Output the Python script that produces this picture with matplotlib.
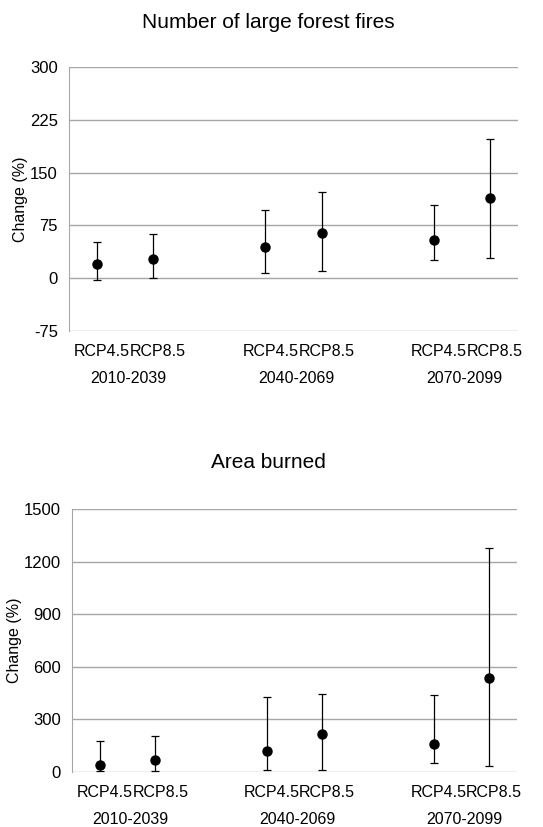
import numpy as np
import matplotlib
matplotlib.use('Agg')
import matplotlib.pyplot as plt

plt.rcParams['font.family'] = ['Liberation Sans', 'DejaVu Sans']
plt.rcParams['axes.unicode_minus'] = False

periods = ['2010-2039', '2040-2069', '2070-2099']
scenarios = ['RCP4.5', 'RCP8.5']

# number of large forest fires, % change (mean, lower, upper)
fires_mean = [19.7, 27.7, 44.5, 63.8, 54.8, 113.9]
fires_low = [-2.3, 0.9, 7.5, 10.8, 25.8, 28.1]
fires_high = [51.6, 63.3, 97.0, 121.9, 103.6, 197.3]

# area burned, % change
area_mean = [38, 71, 118, 218, 160, 535]
area_low = [4, 3, 13, 13, 53, 34]
area_high = [178, 204, 430, 447, 441, 1276]

# slot positions, with an empty slot between the periods
xpos = [0, 1, 3, 4, 6, 7]

fig = plt.figure(figsize=(5.43, 8.27), dpi=100)


def draw_panel(ax, title, title_y, mean, low, high, ylim, yticks):
    mean = np.array(mean)
    err = [mean - np.array(low), np.array(high) - mean]
    ax.errorbar(xpos, mean, yerr=err, fmt='o', color='black', ms=6.5,
                ecolor='black', elinewidth=0.9, capsize=3, capthick=0.9, zorder=3)
    ax.set_xlim(-0.5, 7.5)
    ax.set_ylim(*ylim)
    ax.set_yticks(yticks)
    ax.yaxis.grid(True, color='#a6a6a6', lw=1)
    ax.set_axisbelow(True)
    for s in ['top', 'right', 'bottom']:
        ax.spines[s].set_visible(False)
    ax.spines['left'].set_color('#a6a6a6')
    ax.tick_params(axis='y', length=0, pad=8, labelsize=12)
    ax.set_xticks([])
    ax.set_ylabel('Change (%)', fontsize=11.5, labelpad=1)
    fig.text(268 / 543, title_y, title, ha='center', va='center', fontsize=15)
    # category labels
    for i, x in enumerate(xpos):
        ax.annotate(scenarios[i % 2], xy=(x, 0), xycoords=('data', 'axes fraction'),
                    xytext=(3.5, -14.5), textcoords='offset points',
                    ha='center', va='center', fontsize=11.5)
    for j, p in enumerate(periods):
        x = (xpos[2 * j] + xpos[2 * j + 1]) / 2
        ax.annotate(p, xy=(x, 0), xycoords=('data', 'axes fraction'),
                    xytext=(2, -34), textcoords='offset points',
                    ha='center', va='center', fontsize=11.5)


ax1 = fig.add_axes([0.127, 0.5998, 0.827, 0.319])
draw_panel(ax1, 'Number of large forest fires', 1 - 23 / 827,
           fires_mean, fires_low, fires_high,
           (-75, 300), [-75, 0, 75, 150, 225, 300])

ax2 = fig.add_axes([0.1326, 0.0665, 0.8195, 0.318])
draw_panel(ax2, 'Area burned', 1 - 463 / 827,
           area_mean, area_low, area_high,
           (0, 1500), [0, 300, 600, 900, 1200, 1500])

fig.savefig('out.png', dpi=100)
